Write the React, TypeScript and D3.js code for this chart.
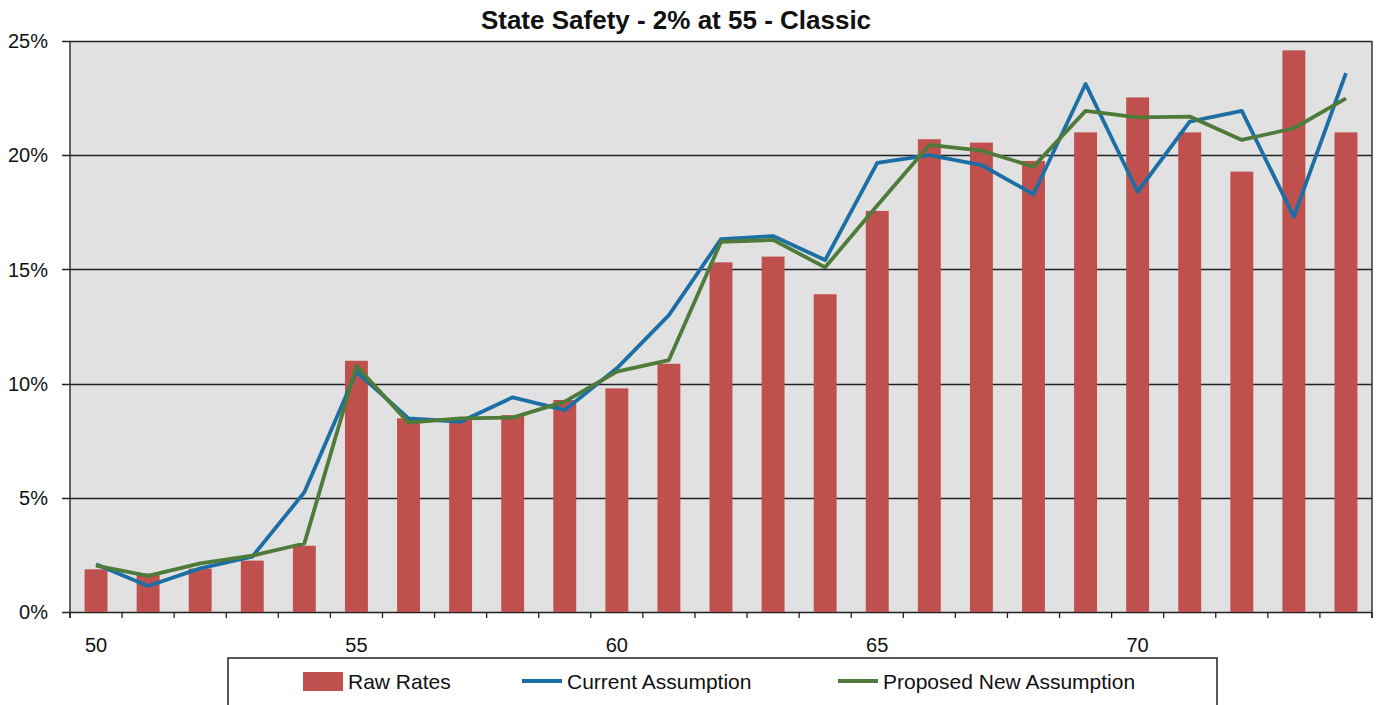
import React, { useEffect, useRef } from 'react';
import * as d3 from 'd3';

// ages on the x axis
const ages = [50, 51, 52, 53, 54, 55, 56, 57, 58, 59, 60, 61, 62, 63, 64, 65, 66, 67, 68, 69, 70, 71, 72, 73, 74];

// values in percent
const rawRates = [1.87, 1.69, 1.9, 2.25, 2.9, 11.0, 8.48, 8.4, 8.62, 9.28, 9.79, 10.87, 15.31, 15.56, 13.91, 17.56, 20.7, 20.55, 19.75, 21.0, 22.53, 21.0, 19.28, 24.59, 21.0];
const currentAssumption = [2.09, 1.14, 1.91, 2.42, 5.24, 10.52, 8.48, 8.33, 9.4, 8.84, 10.67, 13.0, 16.33, 16.46, 15.41, 19.66, 20.0, 19.57, 18.29, 23.12, 18.4, 21.47, 21.94, 17.31, 23.59];
const proposedAssumption = [2.03, 1.58, 2.13, 2.47, 3.0, 10.77, 8.29, 8.48, 8.51, 9.21, 10.52, 11.03, 16.21, 16.29, 15.09, 17.8, 20.45, 20.2, 19.5, 21.94, 21.66, 21.69, 20.67, 21.18, 22.49];

const yTicks = [0, 5, 10, 15, 20, 25];
const xLabels = [50, 55, 60, 65, 70];

const legendItems = [
    { label: 'Raw Rates', color: '#C0504D', kind: 'bar' },
    { label: 'Current Assumption', color: '#1B6FA5', kind: 'line' },
    { label: 'Proposed New Assumption', color: '#4E7B3A', kind: 'line' },
];

const W = 1380;
const H = 705;

const Chart = () => {
    const svgRef = useRef(null);

    useEffect(() => {
        const svg = d3.select(svgRef.current);
        svg.selectAll('*').remove();

        const margin = { top: 41, right: 8, bottom: 93, left: 70 };
        const font = '"Liberation Sans", Arial, sans-serif';

        const x = d3
            .scaleBand()
            .domain(ages.map(String))
            .range([margin.left, W - margin.right])
            .paddingInner(0)
            .paddingOuter(0);

        const y = d3
            .scaleLinear()
            .domain([0, 25])
            .range([H - margin.bottom, margin.top]);

        const barW = x.bandwidth() * 0.44;
        const cx = (d) => x(String(d)) + x.bandwidth() / 2;

        // plot background
        svg.append('rect')
            .attr('x', margin.left)
            .attr('y', margin.top)
            .attr('width', W - margin.right - margin.left)
            .attr('height', y(0) - margin.top)
            .attr('fill', '#E1E1E1');

        // gridlines (with little ticks left of the axis)
        svg.append('g')
            .selectAll('line')
            .data(yTicks)
            .enter()
            .append('line')
            .attr('x1', margin.left - 8)
            .attr('x2', W - margin.right)
            .attr('y1', d => Math.round(y(d)) + 0.5)
            .attr('y2', d => Math.round(y(d)) + 0.5)
            .attr('stroke', '#222')
            .attr('stroke-width', 1.3);

        // y labels
        svg.append('g')
            .selectAll('text')
            .data(yTicks)
            .enter()
            .append('text')
            .attr('x', margin.left - 22)
            .attr('y', d => y(d))
            .attr('dy', '0.36em')
            .attr('text-anchor', 'end')
            .attr('font-family', font)
            .attr('font-size', 20)
            .attr('fill', '#111')
            .text(d => `${d}%`);

        // bars
        svg.append('g')
            .selectAll('rect')
            .data(rawRates)
            .enter()
            .append('rect')
            .attr('x', (d, i) => cx(ages[i]) - barW / 2)
            .attr('y', d => y(d))
            .attr('width', barW)
            .attr('height', d => y(0) - y(d))
            .attr('fill', '#C0504D');

        // lines
        const line = d3
            .line()
            .x((d, i) => cx(ages[i]))
            .y(d => y(d));

        svg.append('path')
            .datum(currentAssumption)
            .attr('d', line)
            .attr('fill', 'none')
            .attr('stroke', '#1B6FA5')
            .attr('stroke-width', 3.8)
            .attr('stroke-linejoin', 'round');

        svg.append('path')
            .datum(proposedAssumption)
            .attr('d', line)
            .attr('fill', 'none')
            .attr('stroke', '#4E7B3A')
            .attr('stroke-width', 3.8)
            .attr('stroke-linejoin', 'round');

        // axes frame: left, right
        const frame = svg.append('g').attr('stroke', '#333').attr('stroke-width', 1.5);
        frame.append('line')
            .attr('x1', margin.left).attr('x2', margin.left)
            .attr('y1', margin.top).attr('y2', y(0) + 6);
        frame.append('line')
            .attr('x1', W - margin.right).attr('x2', W - margin.right)
            .attr('y1', margin.top).attr('y2', y(0) + 6);

        // x axis ticks at band edges
        const edges = ages.map(a => x(String(a))).concat([W - margin.right]);
        svg.append('g')
            .selectAll('line')
            .data(edges)
            .enter()
            .append('line')
            .attr('x1', d => d)
            .attr('x2', d => d)
            .attr('y1', y(0))
            .attr('y2', y(0) + 6)
            .attr('stroke', '#222')
            .attr('stroke-width', 1.3);

        // x labels
        svg.append('g')
            .selectAll('text')
            .data(xLabels)
            .enter()
            .append('text')
            .attr('x', d => cx(d))
            .attr('y', 645)
            .attr('dy', '0.36em')
            .attr('text-anchor', 'middle')
            .attr('font-family', font)
            .attr('font-size', 20)
            .attr('fill', '#111')
            .text(d => d);

        // title
        svg.append('text')
            .attr('x', 676)
            .attr('y', 20)
            .attr('dy', '0.36em')
            .attr('text-anchor', 'middle')
            .attr('font-family', font)
            .attr('font-weight', 'bold')
            .attr('font-size', 26)
            .attr('fill', '#111')
            .text('State Safety - 2% at 55 - Classic');

        // legend
        const legend = svg.append('g');
        legend.append('rect')
            .attr('x', 228)
            .attr('y', 658)
            .attr('width', 989)
            .attr('height', 50)
            .attr('fill', '#fff')
            .attr('stroke', '#222')
            .attr('stroke-width', 1.5);

        const itemX = [303, 522, 838];
        legendItems.forEach((item, i) => {
            const g = legend.append('g').attr('transform', `translate(${itemX[i]},681)`);
            if (item.kind === 'bar') {
                g.append('rect')
                    .attr('x', 0).attr('y', -9)
                    .attr('width', 40).attr('height', 19)
                    .attr('fill', item.color);
            } else {
                g.append('line')
                    .attr('x1', 0).attr('x2', 40)
                    .attr('y1', 0).attr('y2', 0)
                    .attr('stroke', item.color)
                    .attr('stroke-width', 4);
            }
            g.append('text')
                .attr('x', 45)
                .attr('y', 0)
                .attr('dy', '0.36em')
                .attr('font-family', font)
                .attr('font-size', 21)
                .attr('fill', '#111')
                .text(item.label);
        });
    }, []);

    return <svg ref={svgRef} width={W} height={H} style={{ display: 'block' }}></svg>;
};

export default function App() {
    return (
        <div style={{ position: 'absolute', left: 0, top: 0 }}>
            <Chart />
        </div>
    );
}
